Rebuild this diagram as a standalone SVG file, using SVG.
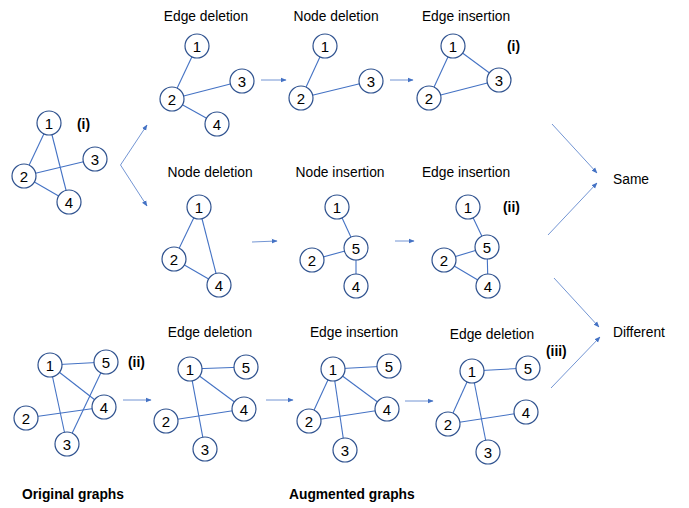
<svg xmlns="http://www.w3.org/2000/svg" width="689" height="508" viewBox="0 0 689 508">
<defs>
<marker id="ah" viewBox="0 0 10 10" refX="9" refY="5" markerWidth="6" markerHeight="6" orient="auto" markerUnits="userSpaceOnUse">
<path d="M0,1 L10,5 L0,9 z" fill="#4472C4"/>
</marker>
</defs>
<style>
.bg{fill:#fff}
.n circle{fill:#fff;stroke:#2F528F;stroke-width:1.2}
.n text{font-family:"Liberation Sans",Arial,sans-serif;font-size:15px;fill:#000;text-anchor:middle;dominant-baseline:central}
.e line{stroke:#4472C4;stroke-width:1.1}
.a line{stroke:#4472C4;stroke-width:0.75;marker-end:url(#ah)}
.t{font-family:"Liberation Sans",Arial,sans-serif;font-size:13.8px;fill:#000;text-anchor:middle}
.tl{font-family:"Liberation Sans",Arial,sans-serif;font-size:13.8px;fill:#000}
.b{font-family:"Liberation Sans",Arial,sans-serif;font-size:13.8px;font-weight:bold;fill:#000}
</style>
<rect class="bg" x="0" y="0" width="689" height="508"/>

<g id="labels">
<text class="t" x="206" y="21">Edge deletion</text>
<text class="t" x="336" y="21">Node deletion</text>
<text class="t" x="466" y="21">Edge insertion</text>
<text class="t" x="210" y="177">Node deletion</text>
<text class="t" x="340" y="177">Node insertion</text>
<text class="t" x="466" y="177">Edge insertion</text>
<text class="t" x="210" y="337">Edge deletion</text>
<text class="t" x="354" y="337">Edge insertion</text>
<text class="t" x="492" y="339">Edge deletion</text>
<text class="tl" x="613" y="184">Same</text>
<text class="tl" x="613" y="337">Different</text>
<text class="b" x="77" y="129">(i)</text>
<text class="b" x="507" y="51">(i)</text>
<text class="b" x="503" y="212">(ii)</text>
<text class="b" x="128" y="367">(ii)</text>
<text class="b" x="546" y="356">(iii)</text>
<text class="b" x="22" y="499">Original graphs</text>
<text class="b" x="289" y="499">Augmented graphs</text>
</g>

<g id="connectors">
<g class="e">
<line x1="49" y1="123" x2="24" y2="176"/>
<line x1="49" y1="123" x2="69" y2="202"/>
<line x1="24" y1="176" x2="95" y2="159"/>
<line x1="24" y1="176" x2="69" y2="202"/>
<line x1="197" y1="46" x2="172" y2="99"/>
<line x1="172" y1="99" x2="242" y2="81"/>
<line x1="172" y1="99" x2="217" y2="124"/>
<line x1="325" y1="46" x2="301" y2="98"/>
<line x1="301" y1="98" x2="371" y2="81"/>
<line x1="453" y1="46" x2="429" y2="98"/>
<line x1="453" y1="46" x2="499" y2="80"/>
<line x1="429" y1="98" x2="499" y2="80"/>
<line x1="199" y1="207" x2="174" y2="259"/>
<line x1="199" y1="207" x2="219" y2="285"/>
<line x1="174" y1="259" x2="219" y2="285"/>
<line x1="337" y1="207" x2="356" y2="248"/>
<line x1="312" y1="260" x2="356" y2="248"/>
<line x1="356" y1="248" x2="356" y2="286"/>
<line x1="468" y1="207" x2="487" y2="247"/>
<line x1="444" y1="260" x2="487" y2="247"/>
<line x1="487" y1="247" x2="488" y2="286"/>
<line x1="444" y1="260" x2="488" y2="286"/>
<line x1="50" y1="365" x2="106" y2="362"/>
<line x1="50" y1="365" x2="104" y2="407"/>
<line x1="50" y1="365" x2="67" y2="444"/>
<line x1="26" y1="418" x2="104" y2="407"/>
<line x1="106" y1="362" x2="67" y2="444"/>
<line x1="190" y1="369" x2="246" y2="367"/>
<line x1="190" y1="369" x2="244" y2="409"/>
<line x1="190" y1="369" x2="205" y2="449"/>
<line x1="166" y1="421" x2="244" y2="409"/>
<line x1="333" y1="369" x2="389" y2="366"/>
<line x1="333" y1="369" x2="387" y2="409"/>
<line x1="333" y1="369" x2="345" y2="450"/>
<line x1="333" y1="369" x2="309" y2="421"/>
<line x1="309" y1="421" x2="387" y2="409"/>
<line x1="472" y1="371" x2="528" y2="368"/>
<line x1="472" y1="371" x2="448" y2="424"/>
<line x1="472" y1="371" x2="488" y2="452"/>
<line x1="448" y1="424" x2="526" y2="412"/>
</g>
<g class="a">
<line x1="120.5" y1="165" x2="147" y2="125"/>
<line x1="120.5" y1="165" x2="147" y2="206"/>
<line x1="261" y1="80" x2="286" y2="80"/>
<line x1="390" y1="80" x2="413" y2="80"/>
<line x1="252" y1="242" x2="277" y2="241"/>
<line x1="395" y1="241" x2="414" y2="241"/>
<line x1="123" y1="400" x2="151" y2="400"/>
<line x1="266" y1="400" x2="293" y2="400"/>
<line x1="405" y1="401" x2="433" y2="401"/>
<line x1="552" y1="124" x2="597" y2="173"/>
<line x1="548" y1="235" x2="597" y2="183"/>
<line x1="554" y1="278" x2="599" y2="327"/>
<line x1="551" y1="388" x2="600" y2="337"/>
</g>
</g>

<g id="g1n1" class="n"><circle cx="49" cy="123" r="12"/><text x="49" y="123">1</text></g>
<g id="g1n2" class="n"><circle cx="24" cy="176" r="12"/><text x="24" y="176">2</text></g>
<g id="g1n3" class="n"><circle cx="95" cy="159" r="12"/><text x="95" y="159">3</text></g>
<g id="g1n4" class="n"><circle cx="69" cy="202" r="12"/><text x="69" y="202">4</text></g>

<g id="a1n1" class="n"><circle cx="197" cy="46" r="12"/><text x="197" y="46">1</text></g>
<g id="a1n2" class="n"><circle cx="172" cy="99" r="12"/><text x="172" y="99">2</text></g>
<g id="a1n3" class="n"><circle cx="242" cy="81" r="12"/><text x="242" y="81">3</text></g>
<g id="a1n4" class="n"><circle cx="217" cy="124" r="12"/><text x="217" y="124">4</text></g>

<g id="b1n1" class="n"><circle cx="325" cy="46" r="12"/><text x="325" y="46">1</text></g>
<g id="b1n2" class="n"><circle cx="301" cy="98" r="12"/><text x="301" y="98">2</text></g>
<g id="b1n3" class="n"><circle cx="371" cy="81" r="12"/><text x="371" y="81">3</text></g>

<g id="c1n1" class="n"><circle cx="453" cy="46" r="12"/><text x="453" y="46">1</text></g>
<g id="c1n2" class="n"><circle cx="429" cy="98" r="12"/><text x="429" y="98">2</text></g>
<g id="c1n3" class="n"><circle cx="499" cy="80" r="12"/><text x="499" y="80">3</text></g>

<g id="a2n1" class="n"><circle cx="199" cy="207" r="12"/><text x="199" y="207">1</text></g>
<g id="a2n2" class="n"><circle cx="174" cy="259" r="12"/><text x="174" y="259">2</text></g>
<g id="a2n4" class="n"><circle cx="219" cy="285" r="12"/><text x="219" y="285">4</text></g>

<g id="b2n1" class="n"><circle cx="337" cy="207" r="12"/><text x="337" y="207">1</text></g>
<g id="b2n5" class="n"><circle cx="356" cy="248" r="12"/><text x="356" y="248">5</text></g>
<g id="b2n2" class="n"><circle cx="312" cy="260" r="12"/><text x="312" y="260">2</text></g>
<g id="b2n4" class="n"><circle cx="356" cy="286" r="12"/><text x="356" y="286">4</text></g>

<g id="c2n1" class="n"><circle cx="468" cy="207" r="12"/><text x="468" y="207">1</text></g>
<g id="c2n5" class="n"><circle cx="487" cy="247" r="12"/><text x="487" y="247">5</text></g>
<g id="c2n2" class="n"><circle cx="444" cy="260" r="12"/><text x="444" y="260">2</text></g>
<g id="c2n4" class="n"><circle cx="488" cy="286" r="12"/><text x="488" y="286">4</text></g>

<g id="g2n1" class="n"><circle cx="50" cy="365" r="12"/><text x="50" y="365">1</text></g>
<g id="g2n5" class="n"><circle cx="106" cy="362" r="12"/><text x="106" y="362">5</text></g>
<g id="g2n4" class="n"><circle cx="104" cy="407" r="12"/><text x="104" y="407">4</text></g>
<g id="g2n2" class="n"><circle cx="26" cy="418" r="12"/><text x="26" y="418">2</text></g>
<g id="g2n3" class="n"><circle cx="67" cy="444" r="12"/><text x="67" y="444">3</text></g>

<g id="a3n1" class="n"><circle cx="190" cy="369" r="12"/><text x="190" y="369">1</text></g>
<g id="a3n5" class="n"><circle cx="246" cy="367" r="12"/><text x="246" y="367">5</text></g>
<g id="a3n4" class="n"><circle cx="244" cy="409" r="12"/><text x="244" y="409">4</text></g>
<g id="a3n2" class="n"><circle cx="166" cy="421" r="12"/><text x="166" y="421">2</text></g>
<g id="a3n3" class="n"><circle cx="205" cy="449" r="12"/><text x="205" y="449">3</text></g>

<g id="b3n1" class="n"><circle cx="333" cy="369" r="12"/><text x="333" y="369">1</text></g>
<g id="b3n5" class="n"><circle cx="389" cy="366" r="12"/><text x="389" y="366">5</text></g>
<g id="b3n4" class="n"><circle cx="387" cy="409" r="12"/><text x="387" y="409">4</text></g>
<g id="b3n2" class="n"><circle cx="309" cy="421" r="12"/><text x="309" y="421">2</text></g>
<g id="b3n3" class="n"><circle cx="345" cy="450" r="12"/><text x="345" y="450">3</text></g>

<g id="c3n1" class="n"><circle cx="472" cy="371" r="12"/><text x="472" y="371">1</text></g>
<g id="c3n5" class="n"><circle cx="528" cy="368" r="12"/><text x="528" y="368">5</text></g>
<g id="c3n4" class="n"><circle cx="526" cy="412" r="12"/><text x="526" y="412">4</text></g>
<g id="c3n2" class="n"><circle cx="448" cy="424" r="12"/><text x="448" y="424">2</text></g>
<g id="c3n3" class="n"><circle cx="488" cy="452" r="12"/><text x="488" y="452">3</text></g>
</svg>
